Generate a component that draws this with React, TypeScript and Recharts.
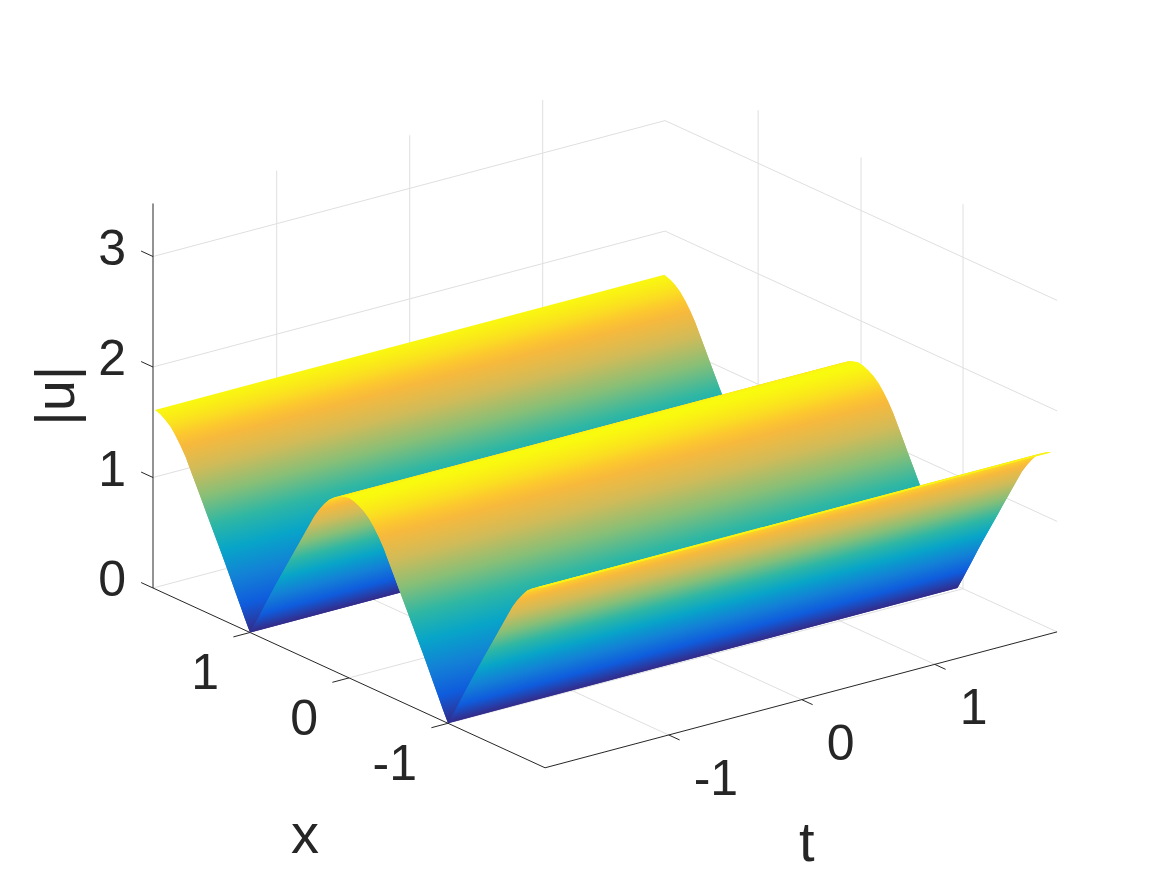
import { ScatterChart, Scatter, XAxis, YAxis } from "recharts";

// surface cross-section (back of the box to the front)
const profileX = [
  1.96, 1.9, 1.85, 1.8, 1.75, 1.7, 1.65, 1.6, 1.55, 1.5, 1.45, 1.4, 1.35, 1.3, 1.25, 1.2, 1.15, 1.1, 1.05, 1.0,
  0.95, 0.9, 0.85, 0.8, 0.75, 0.7, 0.65, 0.6, 0.55, 0.5, 0.45, 0.4, 0.35, 0.3, 0.25, 0.2, 0.15, 0.1, 0.05, 0.0,
  -0.05, -0.1, -0.15, -0.2, -0.25, -0.3, -0.35, -0.4, -0.45, -0.5, -0.55, -0.6, -0.65, -0.7, -0.75, -0.8, -0.85, -0.9, -0.95, -1.0,
  -1.05, -1.1, -1.15, -1.2, -1.25, -1.3, -1.35, -1.4, -1.45, -1.5, -1.55, -1.6, -1.65, -1.7, -1.75, -1.8, -1.85, -1.9, -1.95,
];
const profileU = [
  1.62, 1.6, 1.57, 1.53, 1.47, 1.4, 1.32, 1.22, 1.12, 1.02, 0.92, 0.82, 0.72, 0.62, 0.52, 0.415, 0.31, 0.205, 0.1, 0.0,
  0.1, 0.205, 0.31, 0.415, 0.52, 0.62, 0.72, 0.82, 0.92, 1.02, 1.12, 1.22, 1.32, 1.4, 1.47, 1.53, 1.57, 1.6, 1.62, 1.63,
  1.62, 1.6, 1.57, 1.53, 1.47, 1.4, 1.32, 1.22, 1.12, 1.02, 0.92, 0.82, 0.72, 0.62, 0.52, 0.415, 0.31, 0.205, 0.1, 0.0,
  0.1, 0.205, 0.31, 0.415, 0.52, 0.62, 0.72, 0.82, 0.92, 1.02, 1.12, 1.22, 1.32, 1.4, 1.47, 1.53, 1.57, 1.6, 1.62,
];
const surfaceT = [-1.93, 1.9];

const tTicks = [-1, 0, 1];
const xTicks = [1, 0, -1];
const xWallTicks = [1.04, 0, -1.03];
const zTicks = [0, 1, 2, 3];
const xLabels = ["1", "0", "-1"];
const tLabels = ["-1", "0", "1"];
const zLabels = ["0", "1", "2", "3"];

const T_MIN = -1.93;
const T_MAX = 1.92;
const X_MIN = -1.98;
const X_MAX = 1.98;
const Z_TOP = 3.48;
const U_MAX = 1.63;

const parula = ["#352a87", "#0f5cdd", "#1481d6", "#06a4ca", "#2eb7a4", "#87bf77", "#d1bb59", "#fdb938", "#f9fb0e"];

const GRID = "#dfdfdf";
const INK = "#262626";
const FONT = "'Liberation Sans', Arial, sans-serif";

const project = (t: number, x: number, z: number) => ({
  sx: 153 + (t - T_MIN) * 133 + (X_MAX - x) * 99,
  sy: 588 - (t - T_MIN) * 35.3 + (X_MAX - x) * 45.4 - z * 110.5,
});

const hex = (c: string) => [1, 3, 5].map((i) => parseInt(c.slice(i, i + 2), 16));

function colorAt(u: number) {
  const p = (Math.min(Math.max(u / U_MAX, 0), 1)) * (parula.length - 1);
  const i = Math.min(Math.floor(p), parula.length - 2);
  const a = hex(parula[i]);
  const b = hex(parula[i + 1]);
  const mix = a.map((v, k) => Math.round(v + (b[k] - v) * (p - i)));
  return `rgb(${mix.join(",")})`;
}

// one strip of the surface, gets its corners from Scatter after the axis scales.
// it also runs on under the next strip, otherwise antialiasing leaves pale seams
function stripLine(index: number, u0: number, u1: number) {
  return (props: any) => {
    const pts = props.points;
    const [a, b, c, d, e, f] = pts;
    const ex = b.x - a.x;
    const ey = b.y - a.y;
    const len2 = ex * ex + ey * ey || 1;
    const vx = d.x - a.x;
    const vy = d.y - a.y;
    const along = (vx * ex + vy * ey) / len2;
    const id = `strip${index}`;
    const path = `M${[a, b, c, e, f, d].map((p: any) => `${p.x},${p.y}`).join("L")}Z`;
    return (
      <g>
        <defs>
          <linearGradient
            id={id}
            gradientUnits="userSpaceOnUse"
            x1={a.x}
            y1={a.y}
            x2={a.x + vx - along * ex}
            y2={a.y + vy - along * ey}
          >
            <stop offset={0} stopColor={colorAt(u0)} />
            <stop offset={1} stopColor={colorAt(u1)} />
          </linearGradient>
        </defs>
        <path d={path} fill={`url(#${id})`} />
      </g>
    );
  };
}

const noDot = () => <g />;

const gridLines = [
  ...zTicks.map((z) => [project(T_MIN, X_MAX, z), project(T_MAX, X_MAX, z), project(T_MAX, X_MIN, z)]),
  ...tTicks.map((t) => [project(t, X_MAX, 0), project(t, X_MAX, Z_TOP)]),
  ...xWallTicks.map((x) => [project(T_MAX, x, 0), project(T_MAX, x, Z_TOP)]),
  ...tTicks.map((t) => [project(t, X_MIN, 0), project(t, X_MAX, 0)]),
  ...xTicks.map((x, i) => [project(T_MIN, x, 0), project(T_MAX, xWallTicks[i], 0)]),
];

const axisLines = [
  [project(T_MIN, X_MAX, 0), project(T_MIN, X_MAX, Z_TOP)],
  [project(T_MIN, X_MAX, 0), project(T_MIN, X_MIN, 0)],
  [project(T_MIN, X_MIN, 0), project(T_MAX, X_MIN, 0)],
  ...zTicks.map((z) => [project(T_MIN, X_MAX, z), project(T_MIN, X_MAX + 0.12, z)]),
  ...xTicks.map((x) => [project(T_MIN, x, 0), project(T_MIN - 0.125, x, 0)]),
  ...tTicks.map((t) => [project(t, X_MIN, 0), project(t, X_MIN - 0.11, 0)]),
];

const strips = profileX.slice(0, -1).map((x, i) => {
  const x1 = profileX[i + 1];
  const u0 = profileU[i];
  const u1 = profileU[i + 1];
  const k = Math.min(i + 2, profileX.length - 1);
  return {
    u0,
    u1,
    corners: [
      project(surfaceT[0], x, u0),
      project(surfaceT[1], x, u0),
      project(surfaceT[1], x1, u1),
      project(surfaceT[0], x1, u1),
      project(surfaceT[1], profileX[k], profileU[k]),
      project(surfaceT[0], profileX[k], profileU[k]),
    ],
  };
});

const shift = (p: { sx: number; sy: number }, dx: number, dy: number) => ({ sx: p.sx + dx, sy: p.sy + dy });

const texts = [
  ...zTicks.map((z, i) => ({ ...shift(project(T_MIN, X_MAX, z), -27, 8), label: zLabels[i], anchor: "end", size: 50, rotate: 0 })),
  ...xTicks.map((x, i) => ({ ...shift(project(T_MIN, x, 0), -31, 57), label: xLabels[i], anchor: "end", size: 50, rotate: 0 })),
  ...tTicks.map((t, i) => ({ ...shift(project(t, X_MIN, 0), 25, 60), label: tLabels[i], anchor: "start", size: 50, rotate: 0 })),
  { ...shift(project(T_MIN, 0, 0), -44, 175), label: "x", anchor: "middle", size: 56, rotate: 0 },
  { ...shift(project(0, X_MIN, 0), 5, 161), label: "t", anchor: "middle", size: 56, rotate: 0 },
  { ...shift(project(T_MIN, X_MAX, 1.74), -79, 0), label: "|u|", anchor: "middle", size: 56, rotate: -90 },
];

const textShape = (props: any) => {
  const { cx, cy, payload } = props;
  return (
    <text
      x={cx}
      y={cy}
      textAnchor={payload.anchor}
      fontFamily={FONT}
      fontSize={payload.size}
      fill={INK}
      transform={payload.rotate ? `rotate(${payload.rotate} ${cx} ${cy})` : undefined}
    >
      {payload.label}
    </text>
  );
};

export default function App() {
  return (
    <div style={{ position: "absolute", left: 0, top: 0, width: 1167, height: 875, background: "#fff" }}>
      <ScatterChart width={1167} height={875} margin={{ top: 0, right: 0, bottom: 0, left: 0 }}>
        <XAxis type="number" dataKey="sx" domain={[0, 1167]} hide />
        <YAxis type="number" dataKey="sy" domain={[0, 875]} reversed hide />
        {gridLines.map((pts, i) => (
          <Scatter
            key={`grid${i}`}
            data={pts}
            line={{ stroke: GRID, strokeWidth: 1 }}
            shape={noDot}
            isAnimationActive={false}
          />
        ))}
        {axisLines.map((pts, i) => (
          <Scatter
            key={`axis${i}`}
            data={pts}
            line={{ stroke: INK, strokeWidth: 1 }}
            shape={noDot}
            isAnimationActive={false}
          />
        ))}
        {strips.map((s, i) => (
          <Scatter
            key={`strip${i}`}
            data={s.corners}
            line={stripLine(i, s.u0, s.u1)}
            shape={noDot}
            isAnimationActive={false}
          />
        ))}
        <Scatter data={texts} shape={textShape} isAnimationActive={false} />
      </ScatterChart>
    </div>
  );
}
